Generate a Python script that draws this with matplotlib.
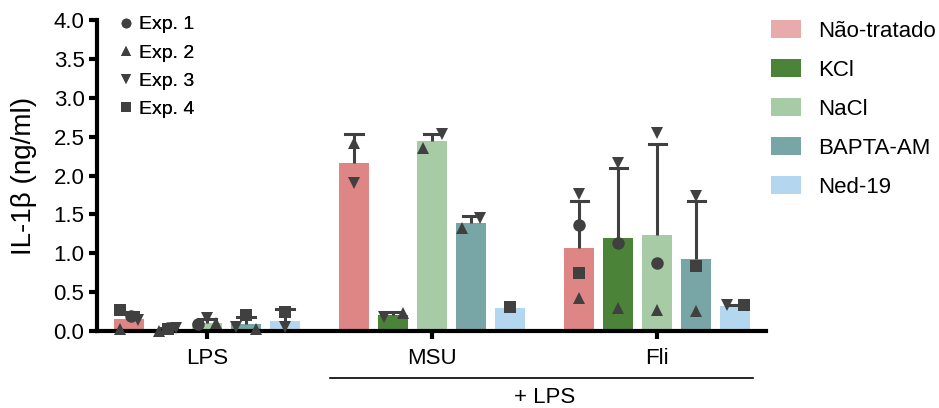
import numpy as np
import matplotlib
matplotlib.use("Agg")
import matplotlib.pyplot as plt
from matplotlib.lines import Line2D
from matplotlib.patches import Patch

plt.rcParams['font.family'] = ['Liberation Sans', 'DejaVu Sans']

groups = ["LPS", "MSU", "Fli"]
treatments = ["Não-tratado", "KCl", "NaCl", "BAPTA-AM", "Ned-19"]
experiments = ["Exp. 1", "Exp. 2", "Exp. 3", "Exp. 4"]

# bar heights (mean) per group, one value per treatment
mean_lps = [0.15, 0.02, 0.10, 0.09, 0.13]
mean_msu = [2.16, 0.20, 2.44, 1.39, 0.30]
mean_fli = [1.07, 1.19, 1.23, 0.93, 0.32]

# upper error (SD) per group
err_lps = [0.10, 0.02, 0.06, 0.09, 0.15]
err_msu = [0.38, 0.05, 0.10, 0.09, 0.0]
err_fli = [0.60, 0.91, 1.17, 0.74, 0.02]

# individual experiments, nan = not done
nan = np.nan
exp1_pts = [[0.19, 0.04, 0.09, nan, nan], [nan, nan, nan, nan, nan], [1.36, 1.13, 0.87, nan, nan]]
exp2_pts = [[0.03, 0.00, 0.10, 0.03, nan], [2.42, 0.23, 2.36, 1.32, nan], [0.42, 0.29, 0.27, 0.26, nan]]
exp3_pts = [[0.14, 0.04, 0.17, 0.05, 0.05], [1.91, 0.18, 2.53, 1.46, nan], [1.76, 2.16, 2.55, 1.74, 0.33]]
exp4_pts = [[0.27, 0.03, nan, 0.21, 0.25], [nan, nan, nan, nan, 0.31], [0.75, nan, nan, 0.83, 0.34]]

# horizontal spread of points inside a bar (bar units)
exp1_dx = [[0.05, 0.0, -0.22, 0, 0], [0, 0, 0, 0, 0], [0, 0, 0, 0, 0]]
exp2_dx = [[-0.23, -0.22, 0.23, 0.25, 0], [0, 0.25, -0.23, -0.23, 0], [0, 0, 0, 0, 0]]
exp3_dx = [[0.22, 0.2, 0.0, -0.25, 0], [0, -0.23, 0.25, 0.22, 0], [0, 0, 0, 0, -0.22]]
exp4_dx = [[-0.23, 0.0, 0, 0.0, 0], [0, 0, 0, 0, 0], [0, 0, 0, 0, 0.22]]

colors = ["#DE8686", "#4B8438", "#A6CBA5", "#78A5A6", "#B3D7EE"]
legend_colors = ["#E8AAAA", "#4B8438", "#A6CBA5", "#78A5A6", "#B3D7EE"]
markers = ["o", "^", "v", "s"]
dark = "#404040"

means = [mean_lps, mean_msu, mean_fli]
errs = [err_lps, err_msu, err_fli]
pts = [exp1_pts, exp2_pts, exp3_pts, exp4_pts]
dxs = [exp1_dx, exp2_dx, exp3_dx, exp4_dx]

group_step = 5.77
width = 0.77

fig = plt.figure(figsize=(9.39, 4.08), dpi=100)
ax = fig.add_axes([0.1033, 0.1887, 0.7125, 0.7622])

for g in range(len(groups)):
    for t in range(len(treatments)):
        x = g * group_step + (t - 2)
        ax.bar(x, means[g][t], width=width, color=colors[t], zorder=1)
        if errs[g][t] > 0:
            top = means[g][t] + errs[g][t]
            ax.plot([x, x], [means[g][t], top], color=dark, lw=2.2, zorder=2,
                    solid_capstyle='butt')
            ax.plot([x - 0.22, x + 0.22], [top, top], color=dark, lw=2.2, zorder=2)
        for e in range(len(experiments)):
            v = pts[e][g][t]
            if not np.isnan(v):
                ax.plot(x + dxs[e][g][t], v, marker=markers[e], color=dark, ms=9,
                        mew=0, ls='none', zorder=3, clip_on=False)

ax.set_xlim(-2.82, 14.33)
ax.set_ylim(0, 4.0)
ax.set_yticks(np.arange(0, 4.01, 0.5))
ax.set_yticklabels([f"{v:.1f}" for v in np.arange(0, 4.01, 0.5)])
ax.set_xticks([g * group_step for g in range(len(groups))])
ax.set_xticklabels(groups)
for s in ["top", "right"]:
    ax.spines[s].set_visible(False)
for s in ["left", "bottom"]:
    ax.spines[s].set_linewidth(3)
ax.tick_params(axis='both', width=3, length=6, labelsize=16, colors='black')
ax.tick_params(axis='y', pad=3)
ax.tick_params(axis='x', pad=6)
ax.set_ylabel("IL-1β (ng/ml)", fontsize=20, labelpad=12)

# bracket under MSU and Fli
ax.plot([group_step - 2.62, 2 * group_step + 2.45], [-0.6, -0.6], color='black', lw=1.2,
        clip_on=False)
ax.text(1.5 * group_step, -0.86, "+ LPS", ha='center', va='center', fontsize=16)

# experiment markers legend
exp_handles = [Line2D([], [], marker=m, color=dark, ls='none', ms=7, mew=0) for m in markers]
leg1 = ax.legend(exp_handles, experiments, loc='upper left', bbox_to_anchor=(0.015, 1.045),
                 frameon=False, fontsize=14, handletextpad=0.15, labelspacing=0.55,
                 handlelength=1.0, borderpad=0)
ax.add_artist(leg1)

# treatment legend
tr_handles = [Patch(facecolor=c, edgecolor='none') for c in legend_colors]
fig.legend(tr_handles, treatments, loc='upper left', bbox_to_anchor=(0.821, 0.950),
           frameon=False, fontsize=16, handlelength=1.36, handleheight=0.85,
           labelspacing=0.78, handletextpad=0.75, borderpad=0, borderaxespad=0)

fig.savefig("out.png", dpi=100)
